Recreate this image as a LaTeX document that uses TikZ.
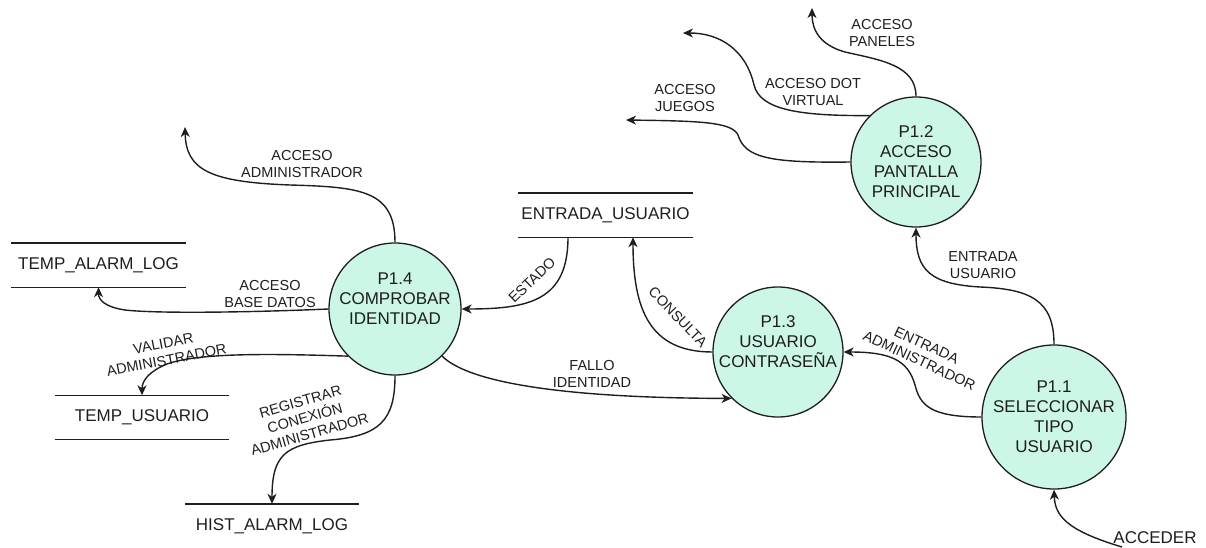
\documentclass[tikz,border=0pt]{standalone}
\usepackage{fontspec}
\setmainfont{Liberation Sans}
\usetikzlibrary{arrows.meta}
\definecolor{procfill}{RGB}{204,246,230}
\definecolor{ink}{RGB}{30,30,30}

\begin{document}
\begin{tikzpicture}[x=1pt,y=-1pt,
  proc/.style={circle, draw=ink, line width=1.3pt, fill=procfill, inner sep=0pt},
  proctext/.style={font=\fontsize{17}{20}\selectfont, align=center, text=ink, inner sep=0pt},
  store/.style={minimum width=174pt, minimum height=44pt, inner sep=0pt,
                font=\fontsize{17}{20}\selectfont, text=ink},
  storeline/.style={line width=1.4pt, draw=ink},
  flow/.style={line width=1.4pt, draw=ink, -{Stealth[length=10pt,width=9pt,inset=3pt]}},
  flowlabel/.style={font=\fontsize{14.5}{17}\selectfont, align=center, text=ink, inner sep=0pt},
]
\useasboundingbox (0,0) rectangle (1206,548);

% processes
\node[proc, minimum size=132pt,
      label={[proctext,yshift=10pt]center:P1.4\\COMPROBAR\\IDENTIDAD}] (p14) at (395,309) {};
\node[proc, minimum size=130pt,
      label={[proctext,yshift=10pt]center:P1.3\\USUARIO\\CONTRASEÑA}] (p13) at (778,352) {};
\node[proc, minimum size=130pt,
      label={[proctext]center:P1.2\\ACCESO\\PANTALLA\\PRINCIPAL}] (p12) at (916,162) {};
\node[proc, minimum size=144pt,
      label={[proctext]center:P1.1\\SELECCIONAR\\TIPO\\USUARIO}] (p11) at (1054,417) {};

% data stores
\node[store] (talarm) at (98.5,265) {TEMP\_ALARM\_LOG};
\node[store] (tusu) at (142,417.5) {TEMP\_USUARIO};
\node[store] (hist) at (272,526) {HIST\_ALARM\_LOG};
\node[store] (eu) at (605.5,215) {ENTRADA\_USUARIO};
\foreach \s in {talarm,tusu,hist,eu} {
  \draw[storeline] (\s.north west) -- (\s.north east);
  \draw[storeline] (\s.south west) -- (\s.south east);
}

% external entry and free ends
\node[font=\fontsize{17}{20}\selectfont, text=ink, inner sep=0pt] (acc) at (1155,538) {ACCEDER};
\coordinate (accin) at (1122,547);
\coordinate (oadmin) at (185,127);
\coordinate (opan) at (812,8);
\coordinate (odot) at (683,33);
\coordinate (ojue) at (626,120);

% flow labels
\node[flowlabel] (ladmin) at (302,164) {ACCESO\\ADMINISTRADOR};
\node[flowlabel] (lbd) at (270,294) {ACCESO\\BASE DATOS};
\node[flowlabel, rotate=11] (lval) at (165,352) {VALIDAR\\ADMINISTRADOR};
\node[flowlabel, rotate=16] (lreg) at (305,418) {REGISTRAR\\CONEXIÓN\\ADMINISTRADOR};
\node[flowlabel, rotate=44] (lest) at (532,280) {ESTADO};
\node[flowlabel, rotate=-46] (lcon) at (678,317) {CONSULTA};
\node[flowlabel] (lfallo) at (592,374) {FALLO\\IDENTIDAD};
\node[flowlabel, rotate=-25] (lea) at (923,353) {ENTRADA\\ADMINISTRADOR};
\node[flowlabel] (leu) at (983,265) {ENTRADA\\USUARIO};
\node[flowlabel] (lpan) at (882,33) {ACCESO\\PANELES};
\node[flowlabel] (ldot) at (813,92) {ACCESO DOT\\VIRTUAL};
\node[flowlabel] (ljue) at (685,98) {ACCESO\\JUEGOS};

% flows out of P1.4
\draw[flow] (p14.north) .. controls (395,190) and (360,187) .. (290,185)
                        .. controls (210,182) and (186,170) .. (oadmin);
\draw[flow] (p14.west) .. controls (260,312) and (160,314) .. (125,310)
                       .. controls (105,307) and (98.5,300) .. (talarm.south);
\draw[flow] (p14.225) .. controls (280,354) and (200,352) .. (167,364)
                      .. controls (150,371) and (142,380) .. (tusu.north);
\draw[flow] (p14.south) .. controls (395,420) and (380,436) .. (330,440)
                        .. controls (285,445) and (272,455) .. (hist.north);
\draw[flow] (p14.-45) .. controls (468,382) and (560,398) .. (p13.225);

% store to P1.4 and P1.3 to store
\draw[flow] ([xshift=-37.5pt]eu.south) .. controls (568,300) and (530,309) .. (p14.east);
\draw[flow] (p13.west) .. controls (650,352) and (633,310) .. ([xshift=27.5pt]eu.south);

% flows out of P1.1
\draw[flow] (accin) .. controls (1065,530) and (1055,515) .. (p11.south);
\draw[flow] (p11.west) .. controls (930,417) and (920,405) .. (915,385)
                       .. controls (908,360) and (890,352) .. (p13.east);
\draw[flow] (p11.north) .. controls (1054,300) and (1030,289) .. (980,287)
                        .. controls (930,284) and (916,270) .. (p12.south);

% flows out of P1.2
\draw[flow] (p12.north) .. controls (916,65) and (880,60) .. (845,52)
                        .. controls (820,45) and (812,30) .. (opan);
\draw[flow] (p12.135) .. controls (800,116) and (760,110) .. (754,85)
                      .. controls (746,50) and (720,33) .. (odot);
\draw[flow] (p12.west) .. controls (770,163) and (745,158) .. (738,135)
                       .. controls (732,122) and (700,121) .. (ojue);
\end{tikzpicture}
\end{document}
